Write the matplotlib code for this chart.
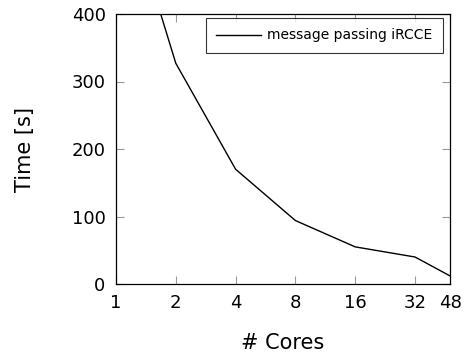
import matplotlib
matplotlib.use("Agg")
import matplotlib.pyplot as plt
from matplotlib.ticker import FixedLocator, FixedFormatter, NullLocator

cores = [1, 2, 4, 8, 16, 32, 48]
time_s = [616, 327, 170, 94, 55, 40, 12]
xtick_vals = [1, 2, 4, 8, 16, 32, 48]
xtick_labels = ["1", "2", "4", "8", "16", "32", "48"]
ytick_vals = [0, 100, 200, 300, 400]
series_label = "message passing iRCCE"

plt.rcParams['font.family'] = ['DejaVu Sans']
fig = plt.figure(figsize=(4.71, 3.58), dpi=100)
ax = fig.add_axes([116/471, 1 - 284/358, (450-116)/471, (284-14)/358])

ax.plot(cores, time_s, color='black', lw=1.0, label=series_label)
ax.set_xscale('log', base=2)
ax.set_xlim(1, 48)
ax.set_ylim(0, 400)
ax.xaxis.set_major_locator(FixedLocator(xtick_vals))
ax.xaxis.set_major_formatter(FixedFormatter(xtick_labels))
ax.xaxis.set_minor_locator(NullLocator())
ax.set_yticks(ytick_vals)
ax.tick_params(axis='both', which='major', direction='in', length=6, width=0.8,
               color='#999999', labelsize=13, top=True, right=True, pad=7.5)
for s in ax.spines.values():
    s.set_linewidth(0.9)
ax.set_xlabel("# Cores", fontsize=15, labelpad=15)
ax.set_ylabel("Time [s]", fontsize=15, labelpad=26)
leg = ax.legend(loc='upper right', fontsize=10, frameon=True, fancybox=False,
                edgecolor='black', handlelength=3.25, handletextpad=0.45,
                borderpad=0.75, borderaxespad=0,
                bbox_to_anchor=((443-116)/334, (284-18)/270))
leg.get_frame().set_linewidth(0.8)
fig.savefig("out.png", dpi=100)
